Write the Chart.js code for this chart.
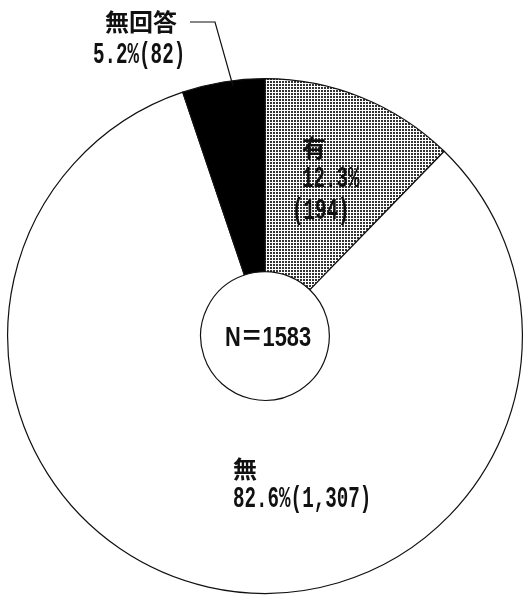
<!DOCTYPE html>
<html>
<head>
<meta charset="utf-8">
<script src="https://cdn.jsdelivr.net/npm/chart.js@4.4.0/dist/chart.umd.min.js"></script>
<style>
  body { margin: 0; background: #fff; }
  #wrap { width: 530px; height: 597px; position: relative; }
</style>
</head>
<body>
<div id="wrap"><canvas id="myChart"></canvas></div>
<script>
// data
var labels = ['有', '無', '無回答'];
var counts = [194, 1307, 82];
var percents = ['12.3%', '82.6%', '5.2%'];
var countText = ['(194)', '(1,307)', '(82)'];
var total = 'N＝1583';

// dotted fill for 有
function dots() {
    var c = document.createElement('canvas');
    c.width = 3; c.height = 3;
    var g = c.getContext('2d');
    g.fillStyle = '#fff';
    g.fillRect(0, 0, 3, 3);
    g.fillStyle = '#333';
    g.fillRect(0, 0, 2, 2);
    return g.createPattern(c, 'repeat');
}

// text with a bit of horizontal squeeze, like the scanned original
function txt(ctx, s, x, y, font, sx, align) {
    ctx.save();
    ctx.font = font;
    ctx.textBaseline = 'middle';
    ctx.textAlign = align || 'left';
    ctx.translate(x, y);
    ctx.scale(sx, 1);
    ctx.fillText(s, 0, 0);
    ctx.restore();
}

var kanji = 'bold 24px "Noto Sans CJK JP", sans-serif';
var nums = 'bold 30px "Liberation Mono", monospace';
var sq = 0.64;

var labelPlugin = {
    id: 'labelPlugin',
    afterDraw: function (chart) {
        var ctx = chart.ctx;
        var arc = chart.getDatasetMeta(0).data[0];
        var cx = arc.x, cy = arc.y;
        ctx.save();
        ctx.fillStyle = '#111';

        // 有
        txt(ctx, labels[0], cx + 37, cy - 188, kanji, 1);
        txt(ctx, percents[0], cx + 37, cy - 157, nums, sq);
        txt(ctx, countText[0], cx + 27, cy - 125, nums, sq);

        // 無
        txt(ctx, labels[1], cx - 32, cy + 133, kanji, 1);
        txt(ctx, percents[1] + countText[1], cx - 32, cy + 163, nums, sq);

        // 無回答 with leader line
        txt(ctx, labels[2], cx - 160, cy - 314, kanji, 1);
        txt(ctx, percents[2] + countText[2], cx - 172, cy - 281, nums, sq);
        ctx.strokeStyle = '#111';
        ctx.lineWidth = 1.2;
        ctx.beginPath();
        ctx.moveTo(cx - 75, cy - 314);
        ctx.lineTo(cx - 50, cy - 314);
        ctx.lineTo(cx - 32, cy - 250);
        ctx.stroke();

        // center
        txt(ctx, total, cx + 3, cy + 2, 'bold 28px "Liberation Sans", "Noto Sans CJK JP", sans-serif', 0.78, 'center');
        ctx.restore();
    }
};

var ctx = document.getElementById('myChart').getContext('2d');
var chart = new Chart(ctx, {
    type: 'doughnut',
    data: {
        labels: labels,
        datasets: [{
            data: counts,
            backgroundColor: [dots(), '#ffffff', '#000000'],
            borderColor: '#111',
            borderWidth: 1.2
        }]
    },
    options: {
        responsive: true,
        maintainAspectRatio: false,
        animation: false,
        cutout: '25%',
        layout: { padding: { top: 78, bottom: 3, left: 7, right: 7 } },
        plugins: {
            legend: { display: false },
            tooltip: { enabled: false }
        }
    },
    plugins: [labelPlugin]
});
</script>
</body>
</html>
